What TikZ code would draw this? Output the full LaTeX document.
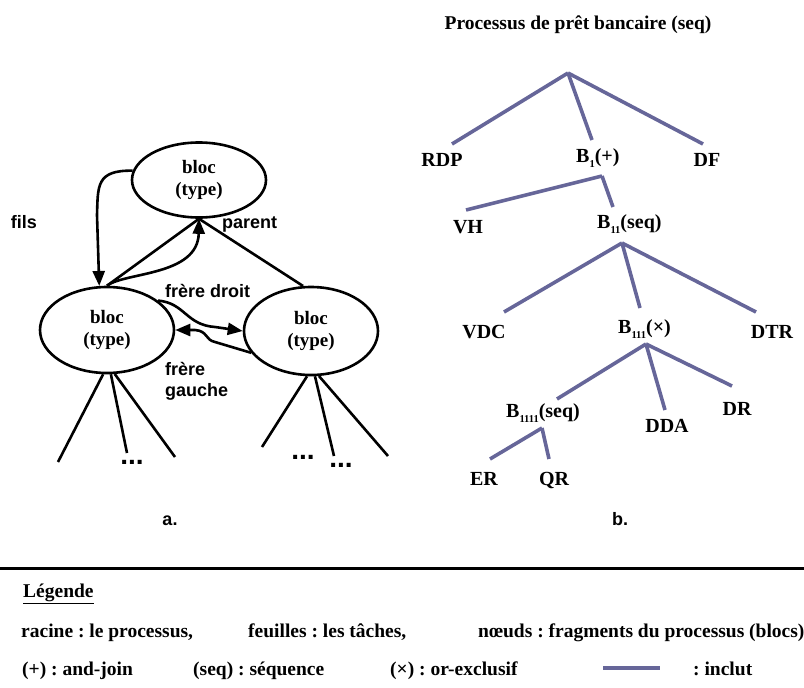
\documentclass[tikz,border=0pt]{standalone}
\usepackage{fontspec}
\setmainfont{Liberation Serif}
\setsansfont{Liberation Sans}
\usetikzlibrary{shapes.geometric,arrows.meta}
\definecolor{treeblue}{HTML}{666699}
\newcommand{\sbs}[1]{\raisebox{-5pt}{\fontsize{10.5}{10.5}\selectfont #1}}
\frenchspacing
\tikzset{
  blk/.style={draw,ellipse,line width=2.6pt,minimum width=134pt,align=center,inner sep=0pt,
     font=\fontsize{19}{22}\selectfont\bfseries},
  conn/.style={line width=2.6pt},
  arr/.style={line width=2.6pt,-{Triangle[length=15pt,width=12pt]}},
  slab/.style={font=\fontsize{18}{20}\selectfont\sffamily\bfseries,inner sep=0pt},
  dots/.style={font=\fontsize{28}{28}\selectfont\sffamily\bfseries,inner sep=0pt,anchor=base},
  tlab/.style={font=\fontsize{20}{22}\selectfont\bfseries,inner sep=0pt,anchor=base},
  blab/.style={font=\fontsize{20}{22}\selectfont\bfseries,inner sep=0pt,anchor=base west},
  tedge/.style={treeblue,line width=3.6pt},
  leg/.style={font=\fontsize{19.5}{22}\selectfont\bfseries,inner sep=0pt,anchor=base west},
}
\begin{document}
\begin{tikzpicture}[x=1pt,y=-1pt]
\useasboundingbox (0,0) rectangle (804,688);
% ---------- left diagram ----------
\node[blk,minimum height=75pt] (top) at (199,180) {bloc\\(type)};
\node[blk,minimum height=86pt] (left) at (107,330) {bloc\\(type)};
\node[blk,minimum height=88pt] (right) at (311,331) {bloc\\(type)};
\draw[conn] (top.south) -- (left.north);
\draw[conn] (top.south) -- (right.100);
\draw[arr] (left.north) .. controls (125,272) and (198,276) .. (top.south);
\draw[arr] (top.172) .. controls (96,170) and (98,186) .. (97,215) -- (left.100);
\coordinate (fd) at (215,327);
\draw[arr] (left.30) .. controls (185,303) and (186,325) .. (fd) -- (right.west);
\coordinate (fg) at (215,342);
\draw[arr] (right.200) -- (fg) .. controls (205,340) and (208,331) .. (195,330) -- (left.east);
\node[slab,anchor=base] (fils) at (24,228) {fils};
\node[slab,anchor=base west] (parent) at (222,228) {parent};
\node[slab,anchor=base west] (fdroit) at (165,297) {frère droit};
\node[slab,anchor=base west] (fgauche1) at (165,375) {frère};
\node[slab,anchor=base west] (fgauche2) at (165,396) {gauche};
% legs
\coordinate (l1) at (58,462);
\coordinate (l2) at (127,453);
\coordinate (l3) at (175,457);
\coordinate (r1) at (262,447);
\coordinate (r2) at (334,456);
\coordinate (r3) at (388,456);
\draw[conn] (left.265) -- (l1);
\draw[conn] (left.275) -- (l2);
\draw[conn] (left.280) -- (l3);
\draw[conn] (right.265) -- (r1);
\draw[conn] (right.275) -- (r2);
\draw[conn] (right.280) -- (r3);
\node[dots] (dl) at (132,464) {...};
\node[dots] (dr1) at (303,459) {...};
\node[dots] (dr2) at (341,467) {...};
\node[slab,anchor=base] (la) at (170,525) {a.};
\node[slab,anchor=base] (lb) at (620,525) {b.};
% ---------- right tree ----------
\node[tlab,font=\fontsize{19.5}{22}\selectfont\bfseries] (title) at (578,29) {Processus de prêt bancaire (seq)};
\coordinate (root) at (568,73);
\node[tlab] (rdp) at (442,166) {RDP};
\node[blab] (b1) at (576,162) {B\sbs{1}(+)};
\node[tlab] (df) at (707,166) {DF};
\coordinate (rdpT) at (452,144);
\coordinate (b1T) at (592,140);
\coordinate (dfT) at (703,144);
\draw[tedge] (root) -- (rdpT);
\draw[tedge] (root) -- (b1T);
\draw[tedge] (root) -- (dfT);
\coordinate (b1B) at (602,176);
\node[tlab] (vh) at (468,233) {VH};
\node[blab] (b11) at (597,228) {B\sbs{11}(seq)};
\coordinate (vhT) at (466,210);
\coordinate (b11T) at (613,207);
\draw[tedge] (b1B) -- (vhT);
\draw[tedge] (b1B) -- (b11T);
\coordinate (b11B) at (622,243);
\node[tlab] (vdc) at (484,338) {VDC};
\node[blab] (b111) at (618,333) {B\sbs{111}(×)};
\node[tlab] (dtr) at (772,338) {DTR};
\coordinate (vdcT) at (504,312);
\coordinate (b111T) at (640,308);
\coordinate (dtrT) at (756,312);
\draw[tedge] (b11B) -- (vdcT);
\draw[tedge] (b11B) -- (b111T);
\draw[tedge] (b11B) -- (dtrT);
\coordinate (b111B) at (646,344);
\node[blab] (b1111) at (506,417) {B\sbs{1111}(seq)};
\node[tlab] (dda) at (667,432) {DDA};
\node[tlab] (dr) at (737,415) {DR};
\coordinate (b1111T) at (557,399);
\coordinate (ddaT) at (665,410);
\coordinate (drT) at (732,386);
\draw[tedge] (b111B) -- (b1111T);
\draw[tedge] (b111B) -- (ddaT);
\draw[tedge] (b111B) -- (drT);
\coordinate (b1111B) at (542,428);
\node[tlab] (er) at (484,485) {ER};
\node[tlab] (qr) at (554,485) {QR};
\coordinate (erT) at (490,459);
\coordinate (qrT) at (549,459);
\draw[tedge] (b1111B) -- (erT);
\draw[tedge] (b1111B) -- (qrT);
% ---------- legend ----------
\coordinate (sepL) at (0,568);
\coordinate (sepR) at (804,568);
\draw[line width=3pt] (sepL) -- (sepR);
\node[leg] (legt) at (23,597) {\underline{Légende}};
\node[leg] (g1) at (21,637) {racine : le processus,};
\node[leg] (g2) at (248,637) {feuilles : les tâches,};
\node[leg] (g3) at (478,637) {nœuds : fragments du processus (blocs)};
\node[leg] (g4) at (22,675) {(+) : and-join};
\node[leg] (g5) at (193,675) {(seq) : séquence};
\node[leg] (g6) at (390,675) {(×) : or-exclusif};
\coordinate (incA) at (603,668);
\coordinate (incB) at (660,668);
\draw[tedge] (incA) -- (incB);
\node[leg] (g7) at (693,675) {: inclut};
\end{tikzpicture}
\end{document}
